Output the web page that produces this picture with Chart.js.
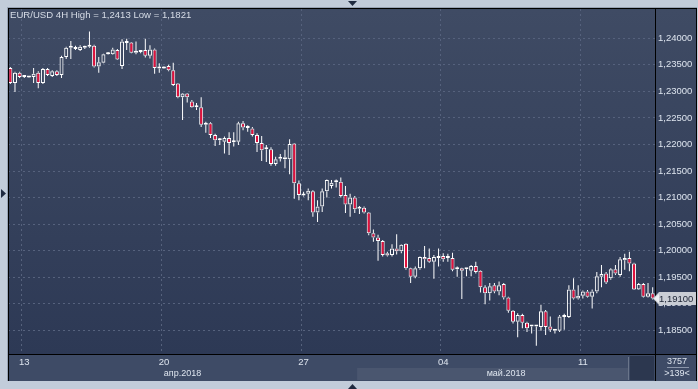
<!DOCTYPE html>
<html>
<head>
<meta charset="utf-8">
<script src="https://cdn.jsdelivr.net/npm/chart.js@4.4.0/dist/chart.umd.min.js"></script>
<style>
html, body { margin: 0; padding: 0; background: #c2ccda; overflow: hidden; }
</style>
</head>
<body>
<canvas id="stockFigure" width="698" height="389"></canvas>
<script>
var title = 'EUR/USD 4H High = 1,2413 Low = 1,1821'

// 4H candles, oldest first (139 visible bars)
var opens = [
    1.2344, 1.2316, 1.2335, 1.2329, 1.2327, 1.2327, 1.2335, 1.2316, 1.2342, 1.2329,
    1.2338, 1.2331, 1.2365, 1.2382, 1.2383, 1.2378, 1.2382, 1.2384, 1.2386, 1.2347,
    1.2354, 1.2370, 1.2370, 1.2378, 1.2348, 1.2391, 1.2392, 1.2373, 1.2374, 1.2378,
    1.2367, 1.2379, 1.2343, 1.2343, 1.2348, 1.2340, 1.2315, 1.2289, 1.2296, 1.2281,
    1.2270, 1.2270, 1.2237, 1.2240, 1.2218, 1.2208, 1.2205, 1.2212, 1.2204, 1.2205,
    1.2240, 1.2232, 1.2230, 1.2218, 1.2203, 1.2191, 1.2191, 1.2163, 1.2173, 1.2176,
    1.2172, 1.2202, 1.2127, 1.2104, 1.2107, 1.2112, 1.2072, 1.2083, 1.2112, 1.2122,
    1.2129, 1.2130, 1.2105, 1.2087, 1.2100, 1.2079, 1.2081, 1.2072, 1.2033, 1.2025,
    1.2018, 1.1995, 1.1992, 1.2004, 1.1999, 1.2013, 1.1967, 1.1951, 1.1967, 1.1988,
    1.1986, 1.1979, 1.1986, 1.1990, 1.1986, 1.1986, 1.1965, 1.1967, 1.1965, 1.1962,
    1.1971, 1.1962, 1.1931, 1.1920, 1.1935, 1.1923, 1.1937, 1.1912, 1.1887, 1.1866,
    1.1879, 1.1864, 1.1857, 1.1857, 1.1856, 1.1886, 1.1857, 1.1849, 1.1849, 1.1875,
    1.1875, 1.1927, 1.1910, 1.1915, 1.1923, 1.1913, 1.1923, 1.1951, 1.1957, 1.1948,
    1.1965, 1.1954, 1.1982, 1.1986, 1.1976, 1.1927, 1.1937, 1.1913, 1.1920
]
var highs = [
    1.2346, 1.2337, 1.2337, 1.2331, 1.2329, 1.2344, 1.2338, 1.2344, 1.2344, 1.2340,
    1.2340, 1.2367, 1.2384, 1.2395, 1.2386, 1.2387, 1.2386, 1.2413, 1.2388, 1.2365,
    1.2371, 1.2374, 1.2382, 1.2380, 1.2398, 1.2399, 1.2393, 1.2394, 1.2376, 1.2399,
    1.2387, 1.2381, 1.2353, 1.2348, 1.2350, 1.2354, 1.2316, 1.2297, 1.2297, 1.2284,
    1.2278, 1.2289, 1.2243, 1.2242, 1.2220, 1.2212, 1.2215, 1.2223, 1.2223, 1.2243,
    1.2244, 1.2236, 1.2233, 1.2221, 1.2216, 1.2199, 1.2195, 1.2177, 1.2182, 1.2190,
    1.2210, 1.2203, 1.2132, 1.2111, 1.2117, 1.2114, 1.2095, 1.2117, 1.2134, 1.2133,
    1.2134, 1.2138, 1.2122, 1.2107, 1.2103, 1.2084, 1.2083, 1.2073, 1.2040, 1.2030,
    1.2020, 1.1998, 1.2012, 1.2031, 1.2012, 1.2014, 1.1968, 1.1970, 1.1989, 1.2009,
    1.2004, 1.1992, 1.2004, 1.1995, 1.1994, 1.1996, 1.1970, 1.1968, 1.1967, 1.1973,
    1.1979, 1.1963, 1.1935, 1.1939, 1.1939, 1.1942, 1.1939, 1.1913, 1.1888, 1.1882,
    1.1881, 1.1866, 1.1860, 1.1858, 1.1898, 1.1888, 1.1876, 1.1852, 1.1879, 1.1881,
    1.1935, 1.1948, 1.1935, 1.1925, 1.1926, 1.1927, 1.1960, 1.1973, 1.1960, 1.1967,
    1.1973, 1.1988, 1.1994, 1.1998, 1.1977, 1.1939, 1.1939, 1.1939, 1.1931
]
var lows = [
    1.2314, 1.2299, 1.2325, 1.2325, 1.2325, 1.2316, 1.2306, 1.2314, 1.2329, 1.2327,
    1.2329, 1.2325, 1.2361, 1.2361, 1.2378, 1.2376, 1.2380, 1.2382, 1.2345, 1.2335,
    1.2353, 1.2369, 1.2369, 1.2359, 1.2342, 1.2378, 1.2372, 1.2370, 1.2372, 1.2364,
    1.2362, 1.2333, 1.2335, 1.2342, 1.2338, 1.2310, 1.2287, 1.2246, 1.2279, 1.2269,
    1.2265, 1.2233, 1.2222, 1.2212, 1.2197, 1.2199, 1.2183, 1.2180, 1.2196, 1.2199,
    1.2227, 1.2224, 1.2215, 1.2186, 1.2169, 1.2167, 1.2160, 1.2160, 1.2168, 1.2155,
    1.2144, 1.2098, 1.2095, 1.2102, 1.2095, 1.2064, 1.2054, 1.2073, 1.2100, 1.2117,
    1.2119, 1.2100, 1.2071, 1.2064, 1.2071, 1.2069, 1.2070, 1.2029, 1.2017, 1.1981,
    1.1989, 1.1989, 1.1989, 1.1993, 1.1995, 1.1964, 1.1939, 1.1948, 1.1964, 1.1967,
    1.1977, 1.1947, 1.1970, 1.1979, 1.1979, 1.1961, 1.1951, 1.1909, 1.1952, 1.1952,
    1.1957, 1.1921, 1.1899, 1.1906, 1.1920, 1.1916, 1.1908, 1.1883, 1.1863, 1.1837,
    1.1854, 1.1847, 1.1844, 1.1821, 1.1849, 1.1841, 1.1847, 1.1844, 1.1847, 1.1851,
    1.1873, 1.1908, 1.1908, 1.1910, 1.1912, 1.1891, 1.1920, 1.1931, 1.1937, 1.1945,
    1.1954, 1.1951, 1.1964, 1.1961, 1.1926, 1.1926, 1.1912, 1.1912, 1.1908
]
var closes = [
    1.2316, 1.2335, 1.2327, 1.2327, 1.2326, 1.2333, 1.2316, 1.2342, 1.2331, 1.2338,
    1.2331, 1.2365, 1.2382, 1.2384, 1.2380, 1.2384, 1.2383, 1.2385, 1.2347, 1.2355,
    1.2370, 1.2372, 1.2379, 1.2360, 1.2394, 1.2394, 1.2373, 1.2376, 1.2375, 1.2367,
    1.2379, 1.2344, 1.2344, 1.2347, 1.2340, 1.2312, 1.2289, 1.2296, 1.2289, 1.2270,
    1.2271, 1.2237, 1.2238, 1.2218, 1.2208, 1.2209, 1.2212, 1.2203, 1.2205, 1.2240,
    1.2232, 1.2231, 1.2218, 1.2203, 1.2189, 1.2192, 1.2163, 1.2172, 1.2176, 1.2172,
    1.2201, 1.2127, 1.2105, 1.2106, 1.2113, 1.2072, 1.2083, 1.2112, 1.2133, 1.2128,
    1.2130, 1.2103, 1.2087, 1.2100, 1.2078, 1.2081, 1.2072, 1.2033, 1.2025, 1.2018,
    1.1992, 1.1991, 1.2004, 1.1999, 1.2011, 1.1967, 1.1951, 1.1967, 1.1988, 1.1984,
    1.1979, 1.1988, 1.1989, 1.1984, 1.1987, 1.1964, 1.1966, 1.1962, 1.1966, 1.1971,
    1.1960, 1.1931, 1.1920, 1.1933, 1.1923, 1.1935, 1.1912, 1.1887, 1.1866, 1.1879,
    1.1864, 1.1854, 1.1858, 1.1858, 1.1886, 1.1856, 1.1851, 1.1850, 1.1876, 1.1876,
    1.1927, 1.1910, 1.1915, 1.1923, 1.1913, 1.1923, 1.1952, 1.1956, 1.1940, 1.1965,
    1.1957, 1.1984, 1.1986, 1.1976, 1.1927, 1.1937, 1.1913, 1.1920, 1.1910
]

// bar index where each weekly grid line starts, and its day label
var weekTicks = [3, 33, 63, 93, 123]
var weekLabels = ['13', '20', '27', '04', '11']
// bar index where each month starts
var monthStarts = [0, 75]
var monthNames = ['апр.2018', 'май.2018']

var lastPrice = 1.19100
var barTotal = '3757'
var barVisible = '>139<'

var gridColor = '#56627d'
var textColor = '#dde4ee'
var downColor = '#e3113d'
var fontName = "'Liberation Sans', Arial, sans-serif"

function fmt(v) {
    return v.toFixed(5).replace('.', ',')
}

// note: "top" is window.top in a page script, so use other names
var labels = []
var bodies = []
var upperWicks = []
var lowerWicks = []
var bodyColors = []
for (var i = 0; i < opens.length; i++) {
    var bodyHi = Math.max(opens[i], closes[i])
    var bodyLo = Math.min(opens[i], closes[i])
    labels.push(i)
    bodies.push([bodyLo, bodyHi])
    upperWicks.push([bodyHi, highs[i]])
    lowerWicks.push([lows[i], bodyLo])
    bodyColors.push(closes[i] < opens[i] ? downColor : 'rgba(0,0,0,0)')
}

// panel backgrounds, frame, borders and the text that sits outside the axes
var terminal = {
    id: 'terminal',
    beforeDraw: function(chart) {
        var ctx = chart.ctx
        var a = chart.chartArea
        ctx.save()
        ctx.fillStyle = '#c2ccda'
        ctx.fillRect(0, 0, 698, 389)
        ctx.fillStyle = '#97a2b4'
        ctx.fillRect(7, 7, 690, 374)
        ctx.fillStyle = '#000000'
        ctx.fillRect(8, 8, 689, 373)
        var g = ctx.createLinearGradient(0, a.top, 0, a.bottom)
        g.addColorStop(0, '#3f4b64')
        g.addColorStop(1, '#2d3955')
        ctx.fillStyle = g
        ctx.fillRect(9, 9, a.right - 9, a.bottom - 9)
        ctx.fillRect(a.right + 1, 9, 696 - a.right - 1, a.bottom - 9)
        ctx.fillStyle = '#3e4b66'
        ctx.fillRect(9, a.bottom + 1, a.right - 9, 26)
        ctx.fillRect(a.right + 1, a.bottom + 1, 696 - a.right - 1, 26)
        // month band of the current month and the scroll box
        var x = chart.scales.x
        var half = (x.getPixelForValue(1) - x.getPixelForValue(0)) / 2
        var mStart = x.getPixelForValue(monthStarts[1]) - half
        ctx.fillStyle = '#4a566f'
        ctx.fillRect(mStart, a.bottom + 14, 628 - mStart, 12)
        ctx.fillStyle = '#6a758a'
        ctx.fillRect(628, a.bottom + 3, 1, 23)
        ctx.fillStyle = '#2c374f'
        ctx.fillRect(630, a.bottom + 2, a.right - 631, 24)
        ctx.restore()
    },
    afterDraw: function(chart) {
        var ctx = chart.ctx
        var a = chart.chartArea
        var x = chart.scales.x
        var y = chart.scales.y
        ctx.save()
        ctx.fillStyle = '#000000'
        ctx.fillRect(8, 8, 689, 1)
        ctx.fillRect(8, 8, 1, 373)
        ctx.fillRect(a.right, 8, 1, 373)
        ctx.fillRect(8, a.bottom, 689, 1)

        ctx.font = '9.6px ' + fontName
        ctx.fillStyle = '#d6dce6'
        ctx.textBaseline = 'middle'
        ctx.textAlign = 'left'
        ctx.fillText(title, 10, 15)

        // month names centred on the visible part of each month
        ctx.font = '9px ' + fontName
        var half = (x.getPixelForValue(1) - x.getPixelForValue(0)) / 2
        ctx.textAlign = 'center'
        ctx.fillStyle = textColor
        for (var m = 0; m < monthNames.length; m++) {
            var s = m === 0 ? a.left : x.getPixelForValue(monthStarts[m]) - half
            var e = m + 1 < monthStarts.length ? x.getPixelForValue(monthStarts[m + 1]) - half : a.right
            ctx.fillText(monthNames[m], (s + e) / 2, a.bottom + 20)
        }

        // bar counter in the corner
        ctx.fillText(barTotal, 677, a.bottom + 8)
        ctx.fillText(barVisible, 677, a.bottom + 20)
        ctx.fillStyle = '#8b96aa'
        ctx.fillRect(667, a.bottom + 13, 22, 1)

        // last price tag
        var py = Math.round(y.getPixelForValue(lastPrice))
        ctx.fillStyle = '#c9cdd4'
        ctx.beginPath()
        ctx.moveTo(653, py + 0.5)
        ctx.lineTo(659, py - 6)
        ctx.lineTo(696, py - 6)
        ctx.lineTo(696, py + 7)
        ctx.lineTo(659, py + 7)
        ctx.closePath()
        ctx.fill()
        ctx.fillStyle = '#eef0f4'
        ctx.beginPath()
        ctx.moveTo(654, py + 0.5)
        ctx.lineTo(659, py - 4)
        ctx.lineTo(659, py + 5)
        ctx.closePath()
        ctx.fill()
        ctx.fillStyle = '#1b2233'
        ctx.textAlign = 'left'
        ctx.font = '9.5px ' + fontName
        ctx.fillText(fmt(lastPrice), 659, py + 1)

        // scroll arrows on the frame
        ctx.fillStyle = '#1f2a40'
        ctx.beginPath()
        ctx.moveTo(348, 1); ctx.lineTo(357, 1); ctx.lineTo(352.5, 6)
        ctx.fill()
        ctx.beginPath()
        ctx.moveTo(1, 189); ctx.lineTo(1, 198); ctx.lineTo(6, 193.5)
        ctx.fill()
        ctx.beginPath()
        ctx.moveTo(348, 389); ctx.lineTo(357, 389); ctx.lineTo(352.5, 384)
        ctx.fill()
        ctx.restore()
    }
}

var data = {
    labels: labels,
    datasets: [{
        label: 'body',
        data: bodies,
        order: 0,
        backgroundColor: bodyColors,
        borderColor: '#ffffff',
        borderWidth: 1,
        borderSkipped: false,
        barThickness: 4,
        minBarLength: 2,
        inflateAmount: 0
    }, {
        label: 'upper wick',
        data: upperWicks,
        order: 1,
        backgroundColor: '#ffffff',
        borderWidth: 0,
        barThickness: 1,
        inflateAmount: 0
    }, {
        label: 'lower wick',
        data: lowerWicks,
        order: 2,
        backgroundColor: '#ffffff',
        borderWidth: 0,
        barThickness: 1,
        inflateAmount: 0
    }]
}

var config = {
    type: 'bar',
    data: data,
    plugins: [terminal],
    options: {
        responsive: false,
        animation: false,
        devicePixelRatio: 1,
        layout: { padding: { left: 8, top: 9, right: 2, bottom: 9 } },
        plugins: {
            legend: { display: false },
            tooltip: { enabled: false }
        },
        scales: {
            x: {
                type: 'category',
                stacked: true,
                offset: true,
                afterFit: function(s) { s.height = 26 },
                grid: {
                    offset: true,
                    drawTicks: false,
                    lineWidth: 1,
                    color: function(c) {
                        return weekTicks.indexOf(c.index) >= 0 ? gridColor : 'rgba(0,0,0,0)'
                    }
                },
                border: { display: false, dash: [2, 3] },
                ticks: {
                    autoSkip: false,
                    maxRotation: 0,
                    padding: 3,
                    color: textColor,
                    font: { family: fontName, size: 9.5 },
                    callback: function(v, i) {
                        var k = weekTicks.indexOf(i)
                        return k >= 0 ? weekLabels[k] : ''
                    }
                }
            },
            y: {
                position: 'right',
                stacked: false,
                min: 1.180535,
                max: 1.245519,
                afterFit: function(s) { s.width = 41 },
                grid: {
                    drawTicks: false,
                    lineWidth: 1,
                    color: function(c) {
                        return c.tick && c.tick.value < 1.2425 ? gridColor : 'rgba(0,0,0,0)'
                    }
                },
                border: { display: false, dash: [2, 3] },
                ticks: {
                    stepSize: 0.005,
                    includeBounds: false,
                    padding: 3,
                    color: textColor,
                    font: { family: fontName, size: 9.5 },
                    callback: function(v) { return v < 1.2425 ? fmt(v) : '' }
                }
            }
        }
    }
}

var stockFigure = new Chart(document.getElementById('stockFigure'), config)
</script>
</body>
</html>
